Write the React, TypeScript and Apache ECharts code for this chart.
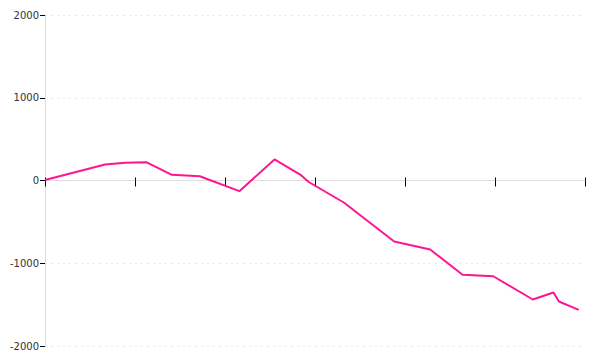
import React, { useEffect, useRef } from "react";
import * as echarts from "echarts";

// x positions (axis units, 0..60) and values of the line
const xValues = [0, 6.67, 8.9, 11.3, 14.1, 17.2, 21.6, 25.5, 28.4, 29.3, 33.2, 38.8, 42.8, 46.4, 49.8, 54.2, 56.5, 57.1, 59.3];
const yValues = [5, 193, 214, 220, 69, 52, -129, 254, 69, -18, -266, -737, -834, -1140, -1157, -1438, -1353, -1462, -1563];
const yTicks = [-2000, -1000, 0, 1000, 2000];

export default function App() {
  const ref = useRef<HTMLDivElement>(null);
  useEffect(() => {
    if (!ref.current) return;
    const chart = echarts.init(ref.current, undefined, { renderer: "svg" });
    const data = xValues.map((x, i) => [x, yValues[i]]);
    chart.setOption({
      animation: false,
      grid: { left: 45, right: 15, top: 15, bottom: 14, containLabel: false },
      xAxis: [
        {
          type: "value",
          min: 0,
          max: 60,
          interval: 10,
          axisLine: { show: true, onZero: true, onZeroAxisIndex: 0, lineStyle: { color: "#dddddd", width: 1 } },
          axisTick: { show: true, length: 6, lineStyle: { color: "#000000", width: 1 } },
          axisLabel: { show: false },
          splitLine: { show: false },
        },
        {
          type: "value",
          position: "top",
          min: 0,
          max: 60,
          interval: 10,
          axisLine: { show: false, onZero: true, onZeroAxisIndex: 1 },
          axisTick: { show: true, length: 3, lineStyle: { color: "#000000", width: 1 } },
          axisLabel: { show: false },
          splitLine: { show: false },
        },
      ],
      yAxis: [
        {
          type: "value",
          min: yTicks[0],
          max: yTicks[yTicks.length - 1],
          interval: 1000,
          axisLine: { show: true, lineStyle: { color: "#dddddd", width: 1 } },
          axisTick: { show: true, length: 5, lineStyle: { color: "#000000", width: 1 } },
          axisLabel: {
            margin: 6,
            color: "#333333",
            fontSize: 10,
            fontFamily: "DejaVu Sans",
            formatter: (v: number) => String(v),
          },
          splitLine: { show: true, lineStyle: { color: "#e8e8e8", type: [2, 4], width: 1 } },
        },
        {
          type: "value",
          show: false,
          min: yTicks[0],
          max: yTicks[yTicks.length - 1],
          interval: 1000,
          splitLine: { show: false },
        },
      ],
      series: [
        {
          type: "line",
          xAxisIndex: 0,
          yAxisIndex: 0,
          data,
          showSymbol: false,
          symbol: "none",
          lineStyle: { color: "#ff1493", width: 2 },
        },
      ],
    });
    return () => chart.dispose();
  }, []);
  return <div ref={ref} style={{ width: 600, height: 360, position: "absolute", left: 0, top: 0 }} />;
}
